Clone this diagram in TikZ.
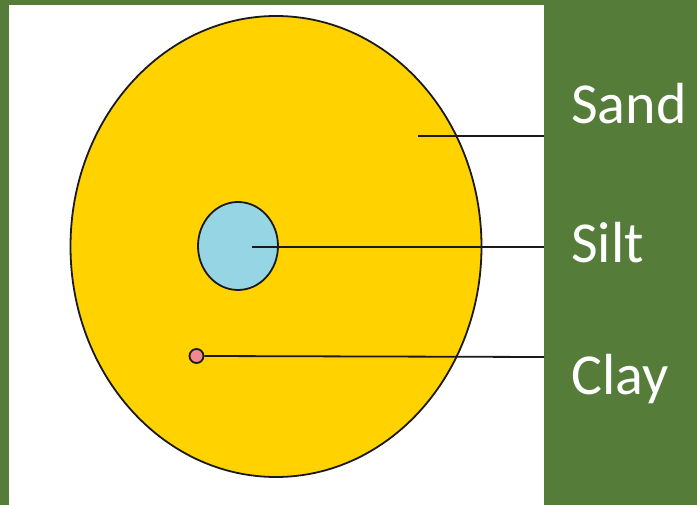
\documentclass[tikz,border=0pt]{standalone}
\usepackage{fontspec}
\setmainfont{Carlito}
\usepackage{xcolor}
\definecolor{cBack}{HTML}{557C38}
\definecolor{cSand}{HTML}{FFD200}
\definecolor{cSilt}{HTML}{96D5E3}
\definecolor{cClay}{HTML}{F2888F}
\definecolor{cLine}{HTML}{1A1A1A}
\usepackage{tikz}
\usetikzlibrary{positioning,shapes.geometric}
\tikzset{
  grain/.style={draw=cLine,line width=1.8pt,ellipse,inner sep=0pt},
  grain-sand/.style={grain,fill=cSand},
  grain-silt/.style={grain,fill=cSilt},
  grain-clay/.style={grain,circle,fill=cClay,minimum size=14pt},
  leader/.style={draw=cLine,line width=1.8pt},
  label-text/.style={text=white,anchor=base west,inner sep=0pt,
    font=\fontsize{58}{60}\selectfont},
}

\begin{document}
\begin{tikzpicture}[x=1pt,y=-1pt]
  % green frame with white panel
  \fill[cBack] (0,0) rectangle (697,505);
  \fill[white] (9,5) rectangle (544,505);
  \useasboundingbox (0,0) rectangle (697,505);

  % grains
  \node[grain-sand,minimum width=411pt,minimum height=461pt]
    (sand) at (276,246.5) {};
  \node[grain-silt,minimum width=80pt,minimum height=88pt]
    (silt) at (238,246) {};
  \node[grain-clay] (clay) at (196.5,356) {};

  % leader ends
  \coordinate (sand-pt) at (418,136);
  \coordinate (sand-end) at (544,136);
  \coordinate (silt-pt) at (252,247);
  \coordinate (silt-end) at (544,247);
  \coordinate (clay-end) at (544,357);

  \draw[leader] (sand-pt) -- (sand-end);
  \draw[leader] (silt-pt) -- (silt-end);
  \draw[leader] (clay.east) -- (clay-end);

  % labels
  \node[label-text] (sand-lbl) at (571,124) {Sand};
  \node[label-text] (silt-lbl) at (571,263) {Silt};
  \node[label-text] (clay-lbl) at (571,395) {Clay};
\end{tikzpicture}
\end{document}
